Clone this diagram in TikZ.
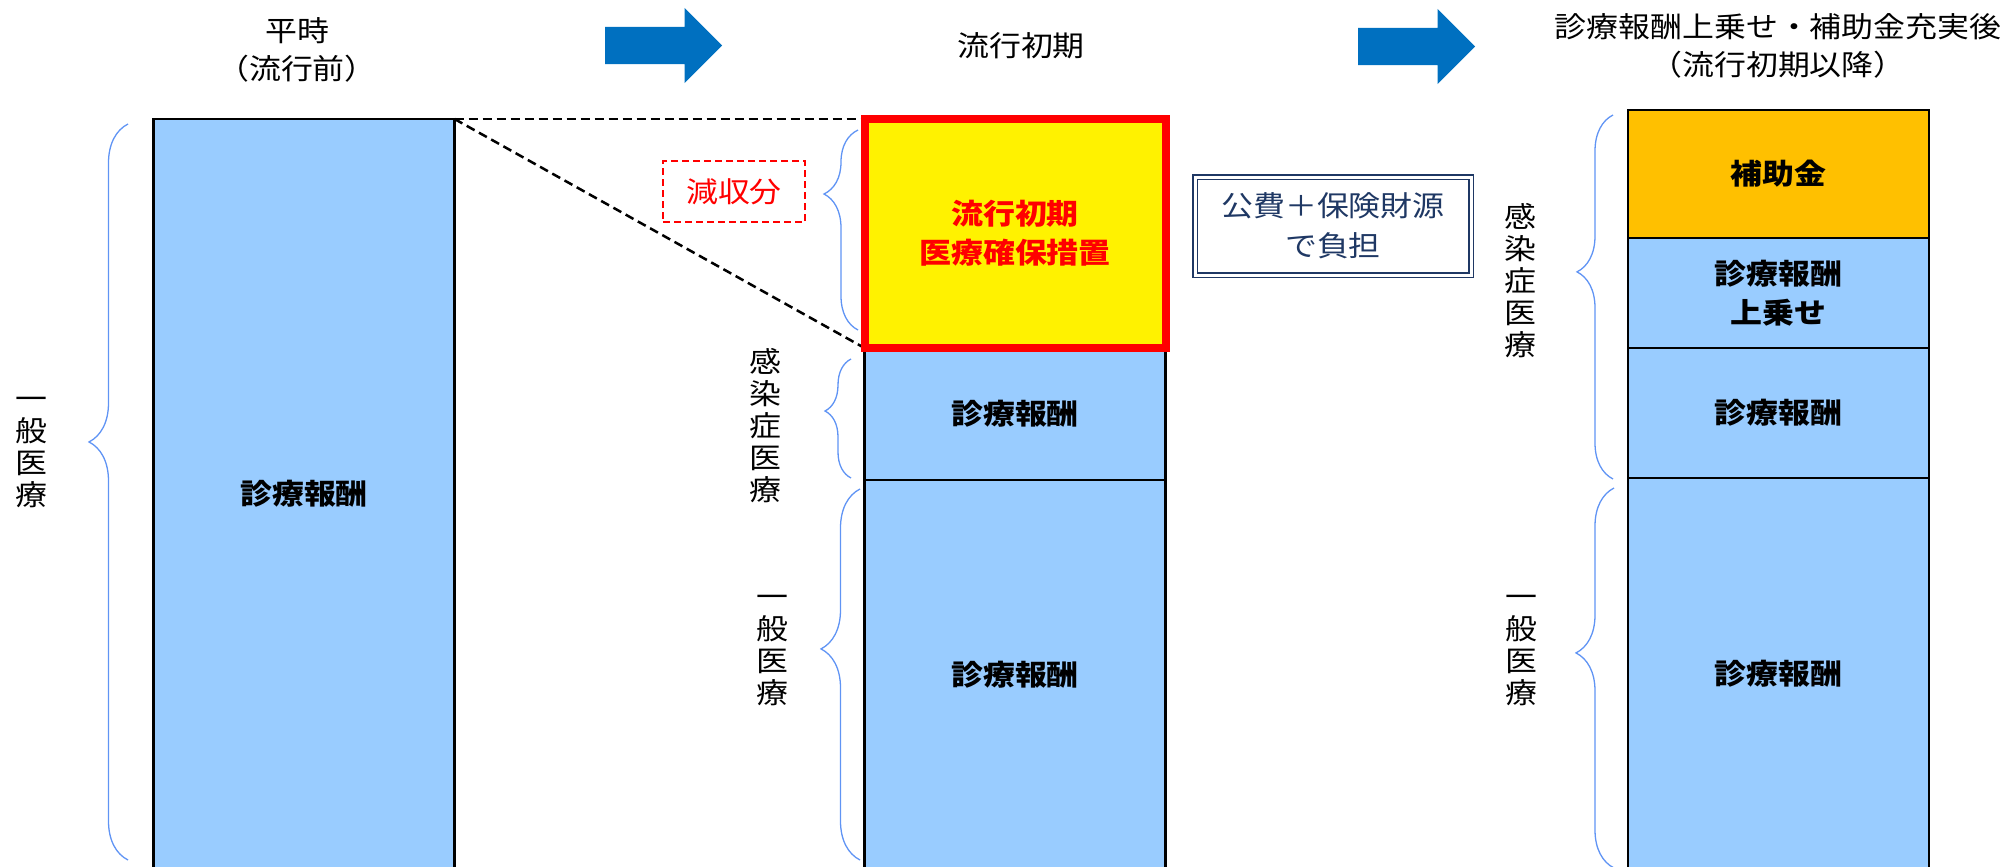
\documentclass[tikz,border=0pt]{standalone}
\usepackage{fontspec}
\setmainfont[FakeStretch=1.12]{Noto Sans CJK JP}
\usetikzlibrary{shapes.arrows,decorations.pathreplacing,backgrounds}
\definecolor{feeblue}{HTML}{99CCFF}
\definecolor{aidorange}{HTML}{FFC000}
\definecolor{arrowblue}{HTML}{0070C0}
\definecolor{navy}{HTML}{1F3864}
\definecolor{bracecol}{HTML}{6094F4}
\begin{document}
\begin{tikzpicture}[x=1pt,y=-1pt,
  heading/.style={font=\fontsize{28.5}{38}\selectfont,align=center},
  vlabel/.style={font=\fontsize{28.5}{32}\selectfont,align=center,inner sep=0},
  feebox/.style={draw=black,line width=2.5pt,fill=feeblue,minimum width=301pt,inner sep=0,outer sep=0,
    anchor=north,font=\fontsize{28.5}{39}\selectfont\bfseries,align=center},
  fatarrow/.style={single arrow,fill=arrowblue,inner sep=0,text height=37pt,minimum height=117pt,
    single arrow head extend=19pt,anchor=tail},
  curly/.style n args={2}{draw=bracecol,line width=1.3pt,decorate,decoration={brace,amplitude=#1,aspect=#2}},
  cut/.style={draw=black,line width=2.5pt,dash pattern=on 9pt off 5pt}]
\clip (0,0) rectangle (2005,867);

% before the epidemic
\node[heading] (tpre) at (297,50) {平時\\（流行前）};
\node[feebox,minimum height=750pt] (pre) at (304,119) {診療報酬};
\node[vlabel] (gen0) at (31,453) {一\\般\\医\\療};
\draw[curly={39pt}{0.568}] (128,860) -- (128,124);

\node[fatarrow] (go1) at (605,45.5) {};

% early phase
\node[heading] (tmid) at (1021,46) {流行初期};
\node[feebox,minimum height=132pt] (mid1) at (1015,348) {診療報酬};
\node[feebox,minimum height=389pt] (mid2) at (1015,480) {診療報酬};
\node[feebox,fill=yellow,draw=red,line width=8pt,text=red,minimum height=229pt] (early) at (1015,119) {流行初期\\医療確保措置};
\begin{scope}[on background layer]
\draw[cut] (pre.north east) -- (early.north west);
\draw[cut] (pre.north east) -- (early.south west);
\end{scope}
\node[draw=red,line width=2pt,dash pattern=on 7pt off 4pt,text=red,minimum width=142pt,minimum height=61pt,
  font=\fontsize{28.5}{34}\selectfont] (loss) at (734,191.5) {減収分};
\draw[curly={34pt}{0.68}] (858,330) -- (858,130);
\draw[curly={26pt}{0.563}] (851,478) -- (851,359);
\draw[curly={39pt}{0.569}] (860,860) -- (860,489);
\node[vlabel] (inf1) at (765,426) {感\\染\\症\\医\\療};
\node[vlabel] (gen1) at (772,651) {一\\般\\医\\療};

\node[draw=navy,double,double distance=3pt,line width=1.6pt,text=navy,minimum width=276pt,minimum height=98pt,
  align=center,font=\fontsize{28.5}{40}\selectfont] (fund) at (1333,226) {公費＋保険財源\\で負担};

\node[fatarrow] (go2) at (1358,46.5) {};

% after add-on and subsidy
\node[heading] (tpost) at (1778,45.5) {診療報酬上乗せ・補助金充実後\\（流行初期以降）};
\node[feebox,fill=aidorange,minimum height=128pt] (aid) at (1778.5,110) {補助金};
\node[feebox,minimum height=110pt] (plus) at (1778.5,238) {診療報酬\\上乗せ};
\node[feebox,minimum height=130pt] (post1) at (1778.5,348) {診療報酬};
\node[feebox,minimum height=391pt] (post2) at (1778.5,478) {診療報酬};
\draw[curly={36pt}{0.569}] (1613,479) -- (1613,115);
\draw[curly={38pt}{0.566}] (1614,868) -- (1614,488);
\node[vlabel] (inf2) at (1520,281) {感\\染\\症\\医\\療};
\node[vlabel] (gen2) at (1521,651) {一\\般\\医\\療};
\end{tikzpicture}
\end{document}
